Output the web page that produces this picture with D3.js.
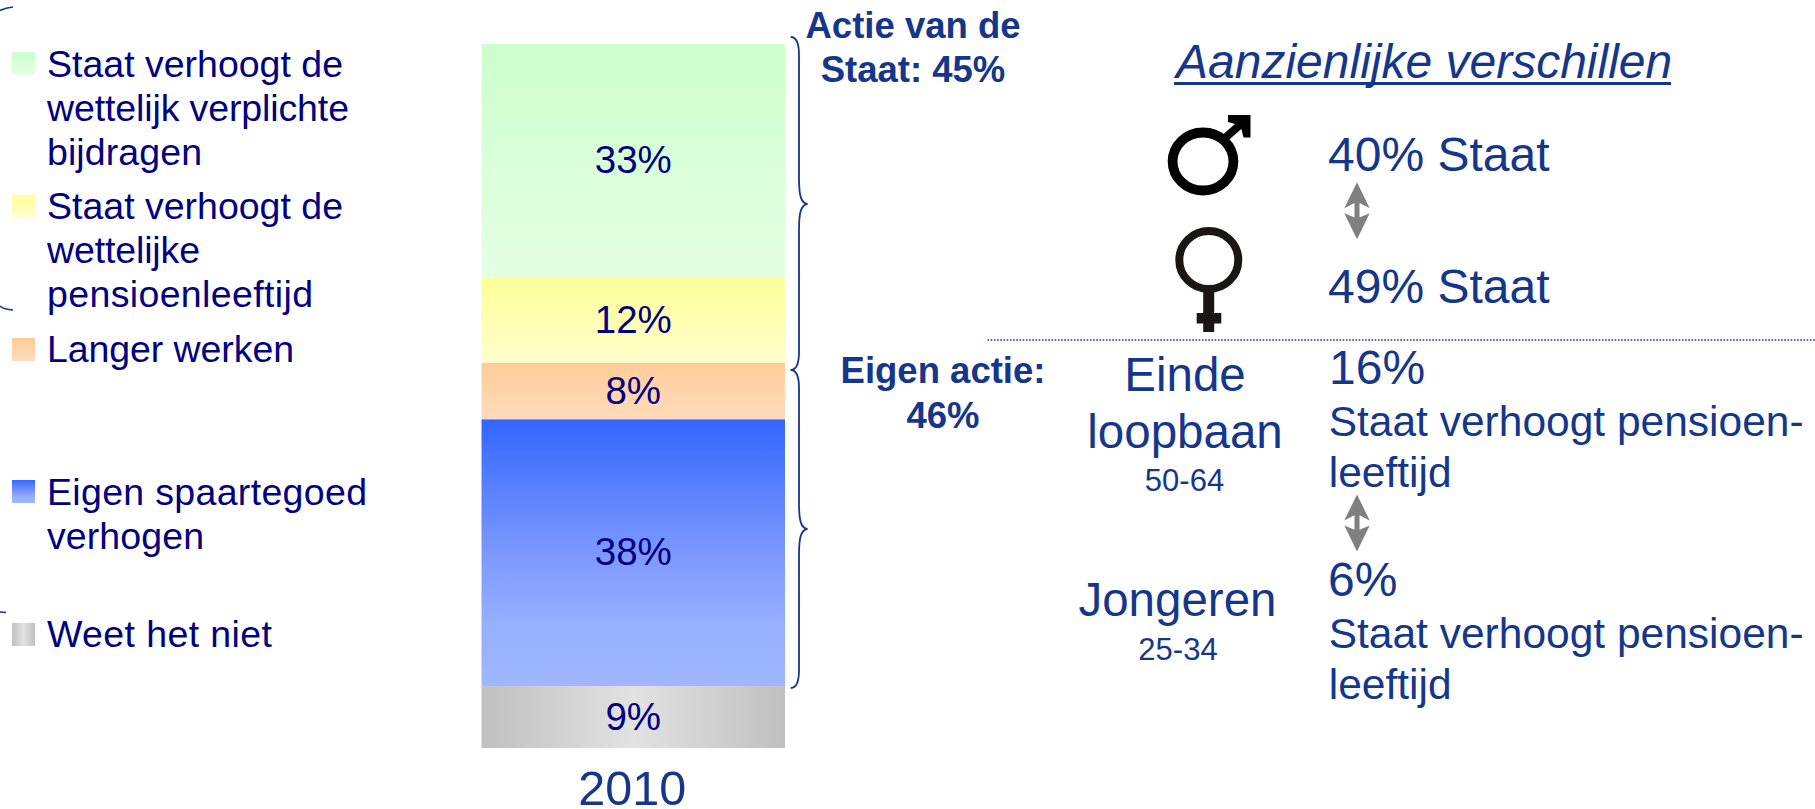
<!DOCTYPE html>
<html>
<head>
<meta charset="utf-8">
<script src="https://cdnjs.cloudflare.com/ajax/libs/d3/7.9.0/d3.min.js"></script>
<style>
html,body{margin:0;padding:0;background:#fff;overflow:hidden}
svg{display:block}
text{font-family:"Liberation Sans",Arial,sans-serif}
</style>
</head>
<body>
<svg id="chart" width="1815" height="809"></svg>
<script>
// ---- data ----
const years = ["2010"];
const categories = ["Weet het niet","Eigen spaartegoed verhogen","Langer werken","Staat verhoogt de wettelijke pensioenleeftijd","Staat verhoogt de wettelijk verplichte bijdragen"];
const values = [8.8, 37.9, 8.0, 12.1, 33.2];           // bottom to top
const gradientStops = [
  ["#c0c0c0","#e2e2e2","#c0c0c0"],
  ["#3366ff","#7c98ff","#95aeff","#9fb7ff"],
  ["#ffcc99","#ffdcbc"],
  ["#ffff99","#ffffcc"],
  ["#ccffcc","#e5ffe5"]
];
const legendLines = [
  ["Staat verhoogt de","wettelijk verplichte","bijdragen"],
  ["Staat verhoogt de","wettelijke","pensioenleeftijd"],
  ["Langer werken"],
  ["Eigen spaartegoed","verhogen"],
  ["Weet het niet"]
];
const legendWidths = [[296,302,155],[296,153,266],[247],[320,157],[225]];
const legendSeries = [4,3,2,1,0];
const legendBaselines = [[76.7,120.7,164.7],[218.7,262.7,306.7],[361.7],[505,549],[646.7]];
const legendSwatchY = [52,195,338,480,623];

const navy = "#000080", blue = "#15368a", grey = "#808080";

const svg = d3.select("#chart");
const defs = svg.append("defs");
gradientStops.forEach((stops,i)=>{
  const horizontal = i===0;
  const g = defs.append("linearGradient").attr("id","g"+i)
    .attr("x1",0).attr("y1",0).attr("x2",horizontal?1:0).attr("y2",horizontal?0:1);
  const offs = stops.length===4 ? [0,.5,.75,1] : stops.map((c,j)=>j/(stops.length-1));
  stops.forEach((c,j)=>g.append("stop").attr("offset",offs[j]).attr("stop-color",c));
});

// ---- scales ----
const x = d3.scaleBand().domain(years).range([481.5,785]);
const y = d3.scaleLinear().domain([0,100]).range([748,44]);
const tops = d3.cumsum(values);
const segs = values.map((v,i)=>({v,i,y0:tops[i]-v,y1:tops[i]}));

// ---- bar ----
svg.selectAll("rect.seg").data(segs).join("rect").attr("class","seg")
  .attr("x",x("2010")).attr("width",x.bandwidth())
  .attr("y",d=>y(d.y1)).attr("height",d=>y(d.y0)-y(d.y1))
  .attr("fill",d=>`url(#g${d.i})`);
svg.selectAll("text.val").data(segs).join("text").attr("class","val")
  .attr("x",x("2010")+x.bandwidth()/2).attr("y",d=>(y(d.y0)+y(d.y1))/2+12.5)
  .attr("text-anchor","middle").attr("font-size",38.5).attr("fill",navy)
  .text(d=>Math.round(d.v)+"%");

// ---- category axis ----
const axis = svg.append("g").attr("transform","translate(0,748)")
  .call(d3.axisBottom(x).tickSize(0).tickPadding(0));
axis.select(".domain").remove();
axis.selectAll("text").attr("font-family","Liberation Sans").attr("font-size",48.5)
  .attr("fill",blue).attr("dy",0).attr("y",56.5).attr("dx",-1);

// ---- legend ----
legendLines.forEach((lines,k)=>{
  svg.append("rect").attr("x",12).attr("y",legendSwatchY[k]).attr("width",23).attr("height",23)
    .attr("fill",`url(#g${legendSeries[k]})`);
  lines.forEach((t,j)=>svg.append("text").attr("x",47).attr("y",legendBaselines[k][j])
    .attr("font-size",37.5).attr("fill",navy)
    .attr("textLength",legendWidths[k][j]).attr("lengthAdjust","spacing").text(t));
});

// ---- braces ----
function brace(xa,xs,xt,yT,yM,yB){
  const r=12;
  return `M${xa},${yT}C${xs-3},${yT} ${xs},${yT+5} ${xs},${yT+r+6}`+
    `L${xs},${yM-r-14}C${xs},${yM-8} ${xs+2},${yM-1} ${xt},${yM}`+
    `C${xs+2},${yM+1} ${xs},${yM+8} ${xs},${yM+r+14}`+
    `L${xs},${yB-r-6}C${xs},${yB-5} ${xs-3},${yB} ${xa},${yB}`;
}
const braceSpec = [[37,204,370],[370,529,688]];
svg.selectAll("path.brace").data(braceSpec).join("path").attr("class","brace")
  .attr("d",d=>brace(790.7,799,807.5,d[0],d[1],d[2]))
  .attr("fill","none").attr("stroke",blue).attr("stroke-width",1.8);
// remnants of a clipped brace at the left edge
[["M0,10.5C4,8.5 8,7.5 13,7"],["M0,306C3,308.5 7,309.5 13,310"],["M0,612L6,612.5"]].forEach(d=>
  svg.append("path").attr("d",d[0]).attr("fill","none").attr("stroke",blue).attr("stroke-width",1.6));

// ---- text blocks ----
const boldBlocks = [
  {t:"Actie van de",x:913,y:37.5},{t:"Staat: 45%",x:913,y:82},
  {t:"Eigen actie:",x:943,y:382.7},{t:"46%",x:943,y:428.3}
];
svg.selectAll("text.bold").data(boldBlocks).join("text").attr("class","bold")
  .attr("x",d=>d.x).attr("y",d=>d.y).attr("text-anchor","middle")
  .attr("font-size",36.5).attr("font-weight","bold").attr("fill",blue).text(d=>d.t);

svg.append("text").attr("x",1176).attr("y",77.5).attr("font-size",48).attr("font-style","italic")
  .attr("fill",blue).text("Aanzienlijke verschillen");
svg.append("rect").attr("x",1174).attr("y",82).attr("width",497).attr("height",3).attr("fill",blue);

const rightText = [
  {t:"40% Staat",x:1328,y:170.5,s:48},{t:"49% Staat",x:1328,y:302.8,s:48},
  {t:"16%",x:1329,y:383.7,s:48},{t:"Staat verhoogt pensioen-",x:1328.7,y:435.5,s:42.5},{t:"leeftijd",x:1328.7,y:487,s:42.5},
  {t:"6%",x:1328,y:596,s:48},{t:"Staat verhoogt pensioen-",x:1328.7,y:648,s:42.5},{t:"leeftijd",x:1328.7,y:699,s:42.5}
];
svg.selectAll("text.right").data(rightText).join("text").attr("class","right")
  .attr("x",d=>d.x).attr("y",d=>d.y).attr("font-size",d=>d.s).attr("fill",blue).text(d=>d.t);

const centerText = [
  {t:"Einde",x:1185,y:391,s:47.5},{t:"loopbaan",x:1185,y:447.5,s:47.5},{t:"50-64",x:1184.5,y:490.5,s:31},
  {t:"Jongeren",x:1177.5,y:616,s:47.5},{t:"25-34",x:1178,y:659.5,s:31}
];
svg.selectAll("text.center").data(centerText).join("text").attr("class","center")
  .attr("x",d=>d.x).attr("y",d=>d.y).attr("text-anchor","middle").attr("font-size",d=>d.s).attr("fill",blue).text(d=>d.t);

// ---- dotted separator ----
svg.append("line").attr("x1",987.5).attr("x2",1815).attr("y1",340).attr("y2",340)
  .attr("stroke",blue).attr("stroke-width",1.6).attr("stroke-dasharray","1.6 1.6");

// ---- double arrows ----
function dblArrow(cx,top){
  svg.append("path").attr("fill",grey).attr("d",
    `M${cx},${top}L${cx+12.7},${top+26}L${cx+3},${top+21}L${cx+2.5},${top+21}L${cx+2.5},${top+35}L${cx+3},${top+35}L${cx+12.7},${top+31}L${cx},${top+57}`+
    `L${cx-12.7},${top+31}L${cx-3},${top+35}L${cx-2.5},${top+35}L${cx-2.5},${top+21}L${cx-3},${top+21}L${cx-12.7},${top+26}Z`);
}
dblArrow(1357,182.3);
dblArrow(1357,494.5);

// ---- gender symbols ----
svg.append("ellipse").attr("cx",1203).attr("cy",161.5).attr("rx",30.4).attr("ry",29)
  .attr("fill","none").attr("stroke","#000").attr("stroke-width",9.8);
svg.append("path").attr("fill","#000")
  .attr("d","M1228,115L1250.5,115L1250.5,137.5L1243.5,137.5L1240.5,125.5L1228,122L1228,115Z");
svg.append("line").attr("x1",1225).attr("y1",138).attr("x2",1241).attr("y2",124)
  .attr("stroke","#000").attr("stroke-width",8);

svg.append("ellipse").attr("cx",1208.8).attr("cy",260).attr("rx",29.5).attr("ry",29)
  .attr("fill","none").attr("stroke","#1a1616").attr("stroke-width",8);
svg.append("rect").attr("x",1203.2).attr("y",291).attr("width",11).attr("height",41).attr("fill","#1a1616");
svg.append("rect").attr("x",1196.7).attr("y",313).attr("width",24.6).attr("height",10.5).attr("fill","#1a1616");
</script>
</body>
</html>
